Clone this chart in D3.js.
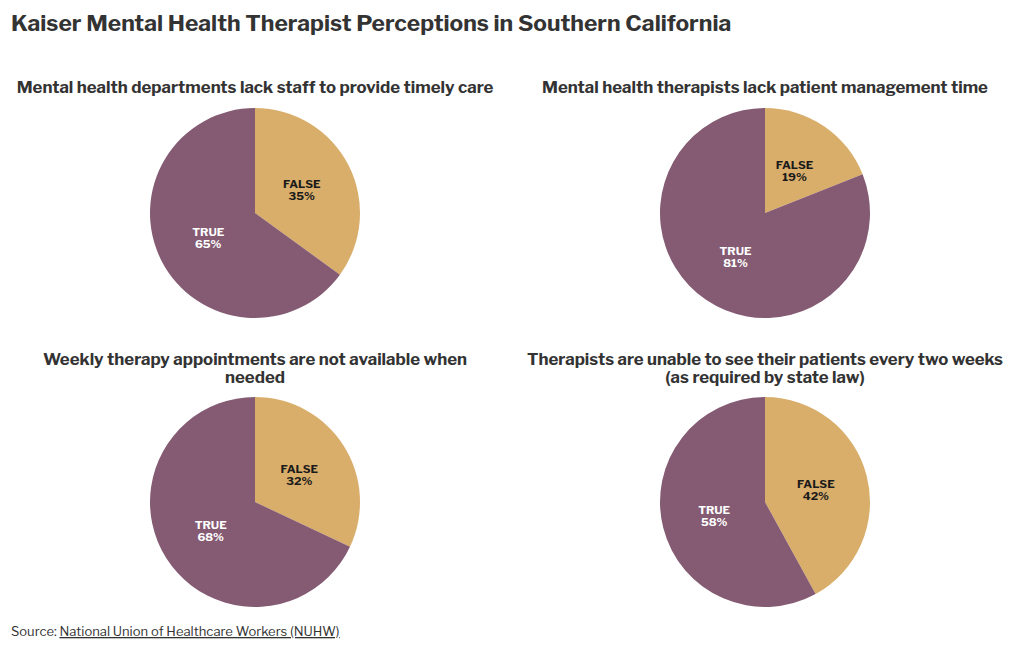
<!DOCTYPE html>
<html><head><meta charset="utf-8">
<script src="https://cdn.jsdelivr.net/npm/d3@7"></script>
<style>
body{margin:0;background:#fff;}
svg{display:block;font-family:"Libre Franklin","Roboto","Open Sans",sans-serif;}
</style></head>
<body><svg id="c" width="1020" height="650"></svg>
<script>
const chartTitle = "Kaiser Mental Health Therapist Perceptions in Southern California";
const panelTitles = [
  ["Mental health departments lack staff to provide timely care"],
  ["Mental health therapists lack patient management time"],
  ["Weekly therapy appointments are not available when", "needed"],
  ["Therapists are unable to see their patients every two weeks", "(as required by state law)"]
];
const categories = ["FALSE", "TRUE"];
const falseValues = [35, 19, 32, 42];
const trueValues = [65, 81, 68, 58];
const colors = ["#d9ae6a", "#845b73"];
const labelColors = ["#1a1a1a", "#ffffff"];

const svg = d3.select("#c");
svg.append("text").attr("x", 11).attr("y", 31).attr("font-size", 22.8).attr("font-weight", 700)
  .attr("fill", "#333").text(chartTitle);

const centers = [[255, 213], [765, 213], [255, 502], [765, 502]];
const titleY = [[93], [93], [365, 383], [365, 383]];
const r = 105;
const pie = d3.pie().sort(null).value(d => d.v);
const arc = d3.arc().innerRadius(0).outerRadius(r);
const labelArc = d3.arc().innerRadius(r * 0.5).outerRadius(r * 0.5);

panelTitles.forEach((lines, i) => {
  const g = svg.append("g");
  lines.forEach((ln, j) => {
    g.append("text").attr("x", centers[i][0]).attr("y", titleY[i][j]).attr("text-anchor", "middle")
      .attr("font-size", 16.8).attr("font-weight", 700).attr("fill", "#333").text(ln);
  });
  const data = [{k: categories[0], v: falseValues[i], idx: 0}, {k: categories[1], v: trueValues[i], idx: 1}];
  const pg = g.append("g").attr("transform", `translate(${centers[i][0]},${centers[i][1]})`);
  const arcs = pie(data);
  pg.selectAll("path").data(arcs).join("path").attr("d", arc).attr("fill", d => colors[d.data.idx]);
  arcs.forEach(a => {
    const [x, y] = labelArc.centroid(a);
    const t = pg.append("text").attr("text-anchor", "middle").attr("font-size", 11.5).attr("font-weight", 700)
      .attr("fill", labelColors[a.data.idx]);
    t.append("tspan").attr("x", x).attr("y", y - 1).text(a.data.k);
    t.append("tspan").attr("x", x).attr("y", y + 11).text(a.data.v + "%");
  });
});

const src = svg.append("text").attr("x", 11).attr("y", 636).attr("font-size", 13).attr("fill", "#333");
src.append("tspan").text("Source: ");
src.append("tspan").attr("text-decoration", "underline").text("National Union of Healthcare Workers (NUHW)");
</script></body></html>
